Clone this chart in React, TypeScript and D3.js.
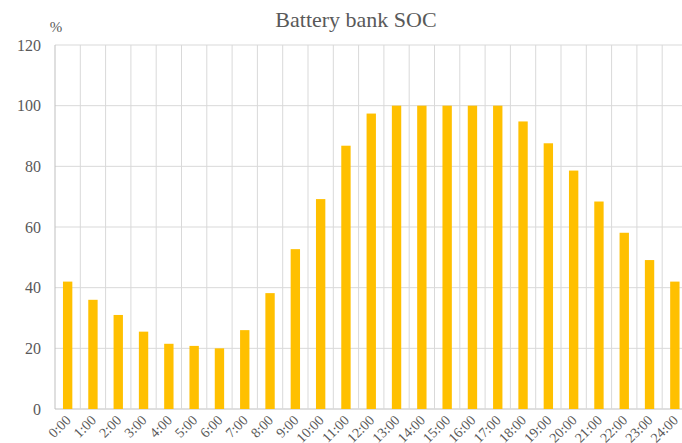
import React from "react";
import * as d3 from "d3";

const hours: string[] = [
  "0:00", "1:00", "2:00", "3:00", "4:00", "5:00", "6:00", "7:00", "8:00", "9:00",
  "10:00", "11:00", "12:00", "13:00", "14:00", "15:00", "16:00", "17:00", "18:00",
  "19:00", "20:00", "21:00", "22:00", "23:00", "24:00",
];
const soc: number[] = [
  42, 36, 31, 25.5, 21.5, 20.8, 20, 26, 38.2, 52.7, 69.2, 86.8, 97.4, 100, 100,
  100, 100, 100, 94.8, 87.6, 78.6, 68.4, 58.1, 49.1, 42,
];
const yTicks: number[] = [0, 20, 40, 60, 80, 100, 120];

const W = 682;
const H = 443;
const left = 55;
const top = 45;
const bottom = 409;
const bandW = 25.3;

const font = "Liberation Serif, DejaVu Serif, serif";
const textColor = "#595959";
const grid = "#d9d9d9";

export default function App() {
  const x = d3
    .scaleBand<string>()
    .domain(hours)
    .range([left, left + bandW * hours.length])
    .paddingInner(0.63)
    .paddingOuter(0.315);
  const xg = d3.scaleBand<string>().domain(hours).range([left, left + bandW * hours.length]);
  const y = d3.scaleLinear().domain([0, 120]).range([bottom, top]);
  const ts = { fontFamily: font };

  return (
    <svg
      width={W}
      height={H}
      style={{ position: "absolute", left: 0, top: 0, background: "#fff" }}
    >
      <rect x={0} y={0} width={W} height={H} fill="#fff" />
      {yTicks.map((t) => (
        <line
          key={"h" + t}
          x1={left}
          x2={W}
          y1={y(t)}
          y2={y(t)}
          stroke={t === 0 ? "#bfbfbf" : grid}
          strokeWidth={1}
        />
      ))}
      {hours.map((h) => (
        <line
          key={"v" + h}
          x1={xg(h)!}
          x2={xg(h)!}
          y1={top}
          y2={bottom}
          stroke={h === hours[0] ? "#bfbfbf" : grid}
          strokeWidth={1}
        />
      ))}
      {hours.map((h, i) => (
        <rect
          key={"b" + h}
          x={x(h)!}
          width={x.bandwidth()}
          y={y(soc[i])}
          height={y(0) - y(soc[i])}
          fill="#FFC000"
        />
      ))}
      {yTicks.map((t) => (
        <text
          key={"yl" + t}
          x={41}
          y={y(t)}
          dy="0.35em"
          textAnchor="end"
          fontSize={16}
          fill={textColor}
          style={ts}
        >
          {t}
        </text>
      ))}
      {hours.map((h) => {
        const cx = xg(h)! + xg.bandwidth() / 2;
        return (
          <text
            key={"xl" + h}
            transform={`translate(${cx + 4},${bottom + 12}) rotate(-45)`}
            textAnchor="end"
            fontSize={14}
            fill={textColor}
            style={ts}
          >
            {h}
          </text>
        );
      })}
      <text x={356} y={27} textAnchor="middle" fontSize={22} fill={textColor} style={ts}>
        Battery bank SOC
      </text>
      <text x={56} y={32} textAnchor="middle" fontSize={15} fill={textColor} style={ts}>
        %
      </text>
    </svg>
  );
}
